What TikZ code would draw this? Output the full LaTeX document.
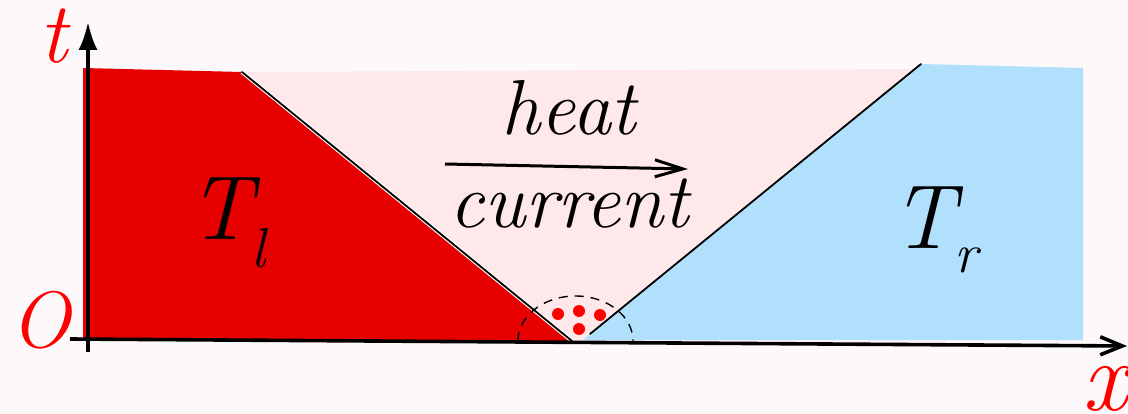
\documentclass[tikz,border=0pt]{standalone}
\usepackage{fontspec}
\usetikzlibrary{arrows.meta}
\definecolor{bgpink}{RGB}{253,248,249}
\definecolor{hotred}{RGB}{230,0,0}
\definecolor{midpink}{RGB}{255,232,234}
\definecolor{coldblue}{RGB}{176,224,252}
\newcommand\subtxt[2]{\raisebox{#1}{\fontsize{56}{56}\selectfont\itshape #2}}

\begin{document}
\begin{tikzpicture}[x=1pt, y=-1pt,
  axis/.style={line width=3.6pt},
  front/.style={line width=1.8pt, line cap=round},
  lbl/.style={inner sep=0pt, anchor=base, text=red,
    font=\itshape\fontsize{#1}{#1}\selectfont},
  word/.style={inner sep=0pt, anchor=base,
    font=\itshape\fontsize{78}{78}\selectfont},
  temp/.style={inner sep=0pt, anchor=base west,
    font=\itshape\fontsize{91}{91}\selectfont},
  dot/.style={circle, fill=red, inner sep=0pt, minimum size=12pt}
]
  \useasboundingbox[fill=bgpink] (0,0) rectangle (1128,414);

  % corners of the three regions
  \coordinate (redTL) at (83,68);
  \coordinate (kneeL) at (242,72);
  \coordinate (tipL) at (572,341);
  \coordinate (redBL) at (83,340);
  \coordinate (kneeR) at (921,64);
  \coordinate (blueTR) at (1083,68);
  \coordinate (blueBR) at (1083,340);
  \coordinate (tipR) at (583,340);
  \coordinate (lineR) at (590,334);

  \fill[midpink] (kneeL) -- (912,69) -- (kneeR) -- (tipR) -- (tipL) -- cycle;
  \fill[hotred] (redTL) -- (kneeL) -- (tipL) -- (redBL) -- cycle;
  \fill[coldblue] (kneeR) -- (blueTR) -- (blueBR) -- (tipR) -- cycle;

  \draw[white, line width=4pt] (kneeL) -- (tipL);
  \draw[front] (kneeL) -- (tipL);
  \draw[front] (kneeR) -- (lineR);

  % axes
  \coordinate (xfrom) at (70,339);
  \coordinate (xto) at (1127,346);
  \coordinate (tfrom) at (88,352);
  \coordinate (tto) at (88,22);
  \draw[axis, -{Straight Barb[length=22pt, width=18pt]}] (xfrom) -- (xto);
  \draw[axis, -{Latex[length=28pt, width=19pt]}] (tfrom) -- (tto);

  \node[lbl=86] (tlab) at (53,63) {t};
  \node[lbl=80] (olab) at (40,347) {O};
  \node[lbl=100] (xlab) at (1105,410) {x};

  % heat current
  \node[word] (heat) at (569,135) {heat};
  \node[word] (curr) at (569,228) {current};
  \coordinate (hfrom) at (445,164);
  \coordinate (hto) at (688,169);
  \draw[line width=3pt, -{Straight Barb[length=28pt, width=17pt]}] (hfrom) -- (hto);

  \node[temp] (Tl) at (188,240) {T\subtxt{-28pt}{l}};
  \node[temp] (Tr) at (891,249) {T\subtxt{-24pt}{r}};

  % contact region
  \draw[line width=1.4pt, dash pattern=on 9pt off 7pt]
    plot[domain=180:0, samples=60] ({575.5+57.5*cos(\x)}, {341-45*sin(\x)});
  \node[dot] (d1) at (558,314) {};
  \node[dot] (d2) at (579,311) {};
  \node[dot] (d3) at (600,315) {};
  \node[dot] (d4) at (579,329) {};
\end{tikzpicture}
\end{document}
